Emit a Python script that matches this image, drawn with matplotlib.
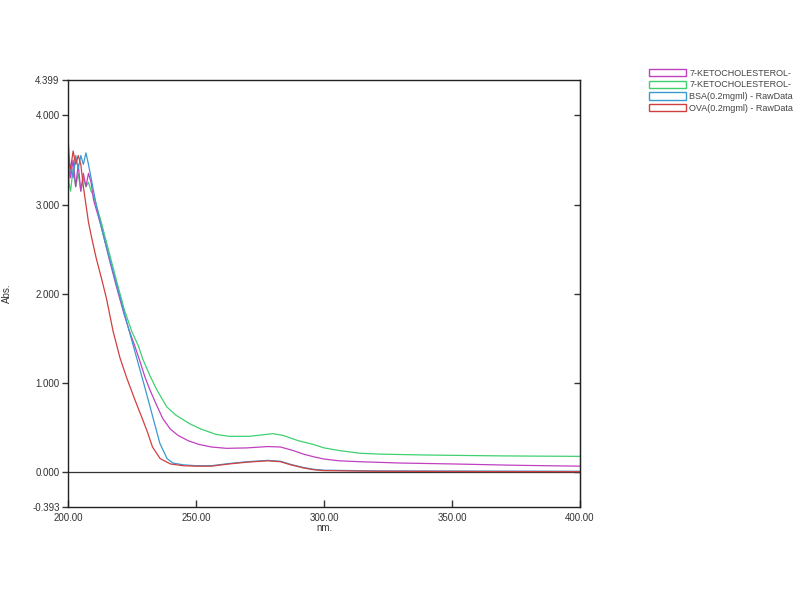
import matplotlib
matplotlib.use("Agg")
import matplotlib.pyplot as plt
from matplotlib.patches import Patch

plt.rcParams['font.family'] = ['Liberation Sans', 'DejaVu Sans']

# ---- data ----
labels = ["7-KETOCHOLESTEROL-", "7-KETOCHOLESTEROL-",
          "BSA(0.2mgml) - RawData", "OVA(0.2mgml) - RawData"]
colors = ["#c040c0", "#40d070", "#3a9ad0", "#d04040"]

keto1_x = [200, 201, 202, 203, 204, 205, 206, 207, 208, 209, 210, 211, 213, 216, 219, 222, 224, 226,
           228, 230, 232, 234.6, 237, 240, 243, 247, 251, 256, 262, 270, 278, 283, 288, 292, 296, 300,
           306, 314, 330, 350, 375, 400]
keto1_y = [3.75, 3.3, 3.5, 3.2, 3.45, 3.15, 3.35, 3.2, 3.35, 3.25, 3.05, 2.95, 2.75, 2.4, 2.07, 1.76, 1.58, 1.42,
           1.25, 1.07, 0.92, 0.75, 0.6, 0.48, 0.41, 0.35, 0.31, 0.28, 0.265, 0.27, 0.285, 0.28, 0.24, 0.2, 0.17, 0.145,
           0.125, 0.115, 0.1, 0.09, 0.075, 0.065]

keto2_x = [200, 201, 202, 203, 204, 205, 206, 207, 208, 209, 210, 211, 213, 216, 219, 222, 225,
           227.4, 229.3, 232, 234.7, 238.6, 242, 247.6, 252, 258, 263, 271, 280, 284, 290, 295.7, 300,
           306, 314, 322, 340, 370, 400]
keto2_y = [3.3, 3.15, 3.4, 3.2, 3.35, 3.15, 3.3, 3.2, 3.25, 3.15, 3.1, 3.0, 2.8, 2.47, 2.14, 1.82, 1.57,
           1.42, 1.26, 1.08, 0.92, 0.73, 0.64, 0.54, 0.48, 0.42, 0.40, 0.40, 0.43, 0.41, 0.35, 0.31, 0.27,
           0.24, 0.21, 0.20, 0.19, 0.18, 0.175]

bsa_x = [200, 201, 202, 203, 204, 205, 206, 207, 208, 209, 210, 211, 213.2, 216, 219, 222, 224.2, 227.3,
         230, 233, 235.9, 238.7, 241, 245, 250, 256, 263, 270, 278, 283, 287, 292, 296, 300, 320, 360, 400]
bsa_y = [3.2, 3.45, 3.3, 3.55, 3.4, 3.55, 3.45, 3.58, 3.45, 3.3, 3.15, 3.0, 2.72, 2.42, 2.1, 1.78, 1.55, 1.23,
         0.95, 0.63, 0.32, 0.15, 0.1, 0.08, 0.07, 0.07, 0.095, 0.115, 0.13, 0.12, 0.085, 0.05, 0.03, 0.02,
         0.012, 0.01, 0.008]

ova_x = [200, 201, 202, 203, 204, 205, 206, 207, 208, 209.3, 211, 213, 215, 217.6, 220.3, 223, 226, 229,
         231, 233, 236, 240, 245, 250, 256, 263, 270, 278, 283, 287, 292, 296, 300, 320, 360, 400]
ova_y = [3.5, 3.4, 3.6, 3.45, 3.55, 3.45, 3.2, 3.0, 2.8, 2.62, 2.4, 2.18, 1.95, 1.58, 1.28, 1.05, 0.82, 0.6,
         0.45, 0.28, 0.15, 0.09, 0.07, 0.065, 0.065, 0.09, 0.11, 0.125, 0.115, 0.08, 0.045, 0.025, 0.015,
         0.008, 0.005, 0.003]

y_ticks = [-0.393, 0.0, 1.0, 2.0, 3.0, 4.0, 4.399]
y_tick_labels = ["-0.393", "0.000", "1.000", "2.000", "3.000", "4.000", "4.399"]
x_ticks = [200, 250, 300, 350, 400]
x_tick_labels = ["200.00", "250.00", "300.00", "350.00", "400.00"]

# ---- figure ----
fig = plt.figure(figsize=(8, 6), dpi=100)
ax = fig.add_axes([0.085, 0.155, 0.64, 0.712])

series = [(keto1_x, keto1_y), (keto2_x, keto2_y), (bsa_x, bsa_y), (ova_x, ova_y)]
draw_order = [1, 0, 2, 3]
for i in draw_order:
    xs, ys = series[i]
    ax.plot(xs, ys, color=colors[i], lw=0.9)

ax.axhline(0, color="#333333", lw=0.9, zorder=0)

ax.set_xlim(200, 400)
ax.set_ylim(-0.393, 4.399)
ax.set_xticks(x_ticks)
ax.set_xticklabels(x_tick_labels)
ax.set_yticks(y_ticks)
ax.set_yticklabels(y_tick_labels)
ax.tick_params(axis='x', direction='in', length=5, width=1, labelsize=7, colors='#333333', pad=4)
ax.tick_params(axis='y', direction='out', length=4, width=1, labelsize=7, colors='#333333', pad=2)
for s in ax.spines.values():
    s.set_color('#222222')
    s.set_linewidth(1.0)

sec = ax.secondary_yaxis('right')
sec.set_yticks([0, 1, 2, 3, 4])
sec.tick_params(direction='in', length=4, width=1, labelright=False, colors='#333333')

ax.set_xlabel("nm.", fontsize=7, color='#333333', labelpad=0)
ax.set_ylabel("Abs.", fontsize=7, color='#333333')
ax.yaxis.set_label_coords(-0.11, 0.5)

handles = [Patch(facecolor='white', edgecolor=c, lw=1.0) for c in colors]
fig.legend(handles, labels, loc='upper left', bbox_to_anchor=(0.805, 0.893),
           frameon=False, fontsize=6.5, handlelength=4.2, handleheight=0.9,
           labelspacing=0.3, handletextpad=0.3, borderpad=0, labelcolor='#444444')

fig.savefig("out.png", dpi=100)
